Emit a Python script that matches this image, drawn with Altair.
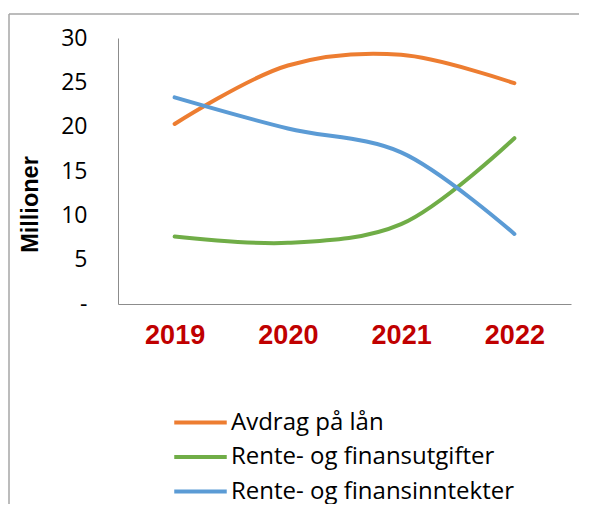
import altair as alt
import pandas as pd

years = ["2019", "2020", "2021", "2022"]
series_names = ["Avdrag på lån", "Rente- og finansutgifter", "Rente- og finansinntekter"]
avdrag = [20.3, 26.9, 28.1, 24.9]
utgifter = [7.6, 6.9, 9.0, 18.7]
inntekter = [23.3, 19.8, 17.1, 7.9]
colors = ["#ED7D31", "#70AD47", "#5B9BD5"]

rows = []
for name, vals in zip(series_names, [avdrag, utgifter, inntekter]):
    for y, v in zip(years, vals):
        rows.append({"year": y, "serie": name, "value": v})
df = pd.DataFrame(rows)

lines = alt.Chart(df).mark_line(interpolate="catmull-rom", strokeWidth=4, strokeCap="round").encode(
    x=alt.X("year:N", sort=years, scale=alt.Scale(type="point", padding=0.5),
            axis=alt.Axis(title=None, labelAngle=0, ticks=False, tickSize=0, domain=True,
                          domainColor="#8c8c8c", labelFont="Liberation Sans", labelFontWeight="bold",
                          labelFontSize=27, labelColor="#C00000", labelPadding=18)),
    y=alt.Y("value:Q", scale=alt.Scale(domain=[0, 30], nice=False),
            axis=alt.Axis(title="Millioner", values=[0, 5, 10, 15, 20, 25, 30],
                          labelExpr="datum.value == 0 ? '-' : datum.label",
                          ticks=False, tickSize=0, grid=False, domainColor="#8c8c8c",
                          labelFont="Open Sans", labelFontSize=23, labelColor="#000000",
                          labelPadding=31, titleFont="Liberation Sans", titleFontSize=23.5,
                          titleFontWeight="bold", titleColor="#000000", titleX=-88, titleY=166,
                          titleAngle=270, titleAlign="center", titleBaseline="middle")),
    color=alt.Color("serie:N", sort=series_names,
                    scale=alt.Scale(domain=series_names, range=colors),
                    legend=alt.Legend(title=None, orient="none", legendX=70, legendY=372,
                                      symbolType="M-2.5,0H2.5", symbolSize=441,
                                      symbolStrokeWidth=4, labelFont="Open Sans",
                                      labelFontSize=24, labelColor="#000000", labelLimit=0,
                                      labelOffset=18, rowPadding=9.5, padding=0)),
)

frame_df = pd.DataFrame({"a": [0]})
left_frame = alt.Chart(frame_df).mark_rule(color="#a6a6a6", strokeWidth=1.5).encode(
    x=alt.value(-109), y=alt.value(-24), y2=alt.value(480))
top_frame = alt.Chart(frame_df).mark_rule(color="#a6a6a6", strokeWidth=1.5).encode(
    x=alt.value(-109), x2=alt.value(600), y=alt.value(-24))

chart = alt.layer(left_frame, top_frame, lines).properties(
    width=453, height=266,
    autosize=alt.AutoSizeParams(type="none"),
    padding={"left": 110, "top": 30, "right": 8, "bottom": 200},
    background="white",
).configure_view(stroke=None)

chart.save("out.html", embed_options={"renderer": "svg", "actions": False})
